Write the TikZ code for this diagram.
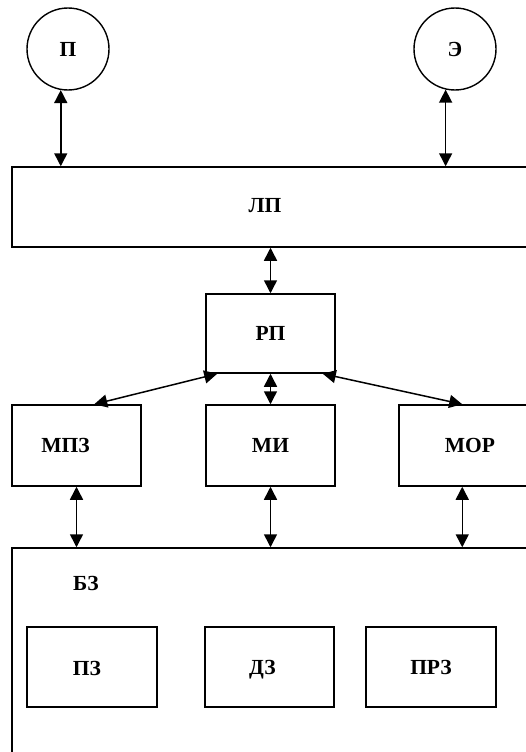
\documentclass[tikz,border=0pt]{standalone}
\usepackage{fontspec}
\setmainfont{Liberation Serif}
\usetikzlibrary{arrows.meta}
\begin{document}
\begin{tikzpicture}[x=1pt,y=-1pt,
  every node/.style={font=\fontsize{21.5}{25}\selectfont\bfseries},
  box/.style={draw=black, line width=1.5pt, rectangle, inner sep=0pt},
  circ/.style={draw=black, line width=1.4pt, circle, minimum size=82pt, inner sep=0pt},
  lbl/.style={inner sep=0pt},
  arr/.style={line width=1.5pt, {Triangle[length=13pt,width=13pt]}-{Triangle[length=13pt,width=13pt]}}]
\useasboundingbox (0,0) rectangle (526,752);
\clip (0,0) rectangle (526,752);
\fill[white] (0,0) rectangle (526,752);
% circles
\node[circ] (p) at (68,49) {П};
\node[circ] (e) at (455,49) {Э};
% top bar
\node[box, minimum width=540pt, minimum height=80pt] (lp) at (282,207) {};
\node[lbl] (lpt) at (265,206) {ЛП};
% middle
\node[box, minimum width=129pt, minimum height=79pt] (rp) at (270.5,333.5) {РП};
\node[box, minimum width=129pt, minimum height=81pt, label={[lbl,xshift=-11pt]center:МПЗ}] (mpz) at (76.5,445.5) {};
\node[box, minimum width=129pt, minimum height=81pt] (mi) at (270.5,445.5) {МИ};
\node[box, minimum width=142pt, minimum height=81pt] (mor) at (470,445.5) {МОР};
% knowledge base
\node[box, minimum width=540pt, minimum height=240pt] (bz) at (282,668) {};
\node[lbl] (bzt) at (86,583) {БЗ};
\node[box, minimum width=130pt, minimum height=80pt, label={[lbl,xshift=-5pt,yshift=-1pt]center:ПЗ}] (pz) at (92,667) {};
\node[box, minimum width=129pt, minimum height=80pt, label={[lbl,xshift=-7pt,yshift=-3pt]center:ДЗ}] (dz) at (269.5,667) {};
\node[box, minimum width=130pt, minimum height=80pt] (prz) at (431,667) {ПРЗ};
% connectors
\draw[arr] (p.-100) -- (p.-100 |- lp.north);
\draw[arr] (e.-103) -- (e.-103 |- lp.north);
\draw[arr] (lp.south -| rp.north) -- (rp.north);
\draw[arr] ([xshift=12pt]rp.south west) -- ([xshift=83pt]mpz.north west);
\draw[arr] (rp.south) -- (mi.north);
\draw[arr] ([xshift=-13pt]rp.south east) -- ([xshift=64pt]mor.north west);
\draw[arr] (mpz.south) -- (mpz.south |- bz.north);
\draw[arr] (mi.south) -- (mi.south |- bz.north);
\coordinate (mors) at ([xshift=64pt]mor.south west);
\draw[arr] (mors) -- (mors |- bz.north);
\end{tikzpicture}
\end{document}
